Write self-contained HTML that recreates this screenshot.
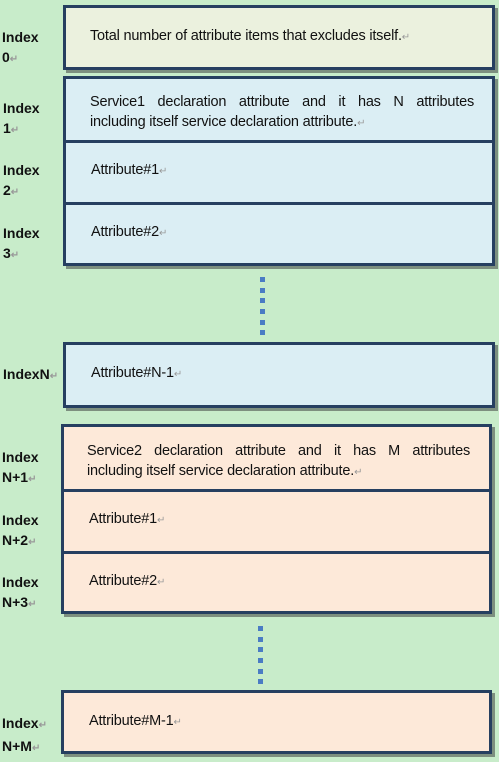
<!DOCTYPE html>
<html><head><style>
body{margin:0;width:499px;height:762px;background:#c8ecca;position:relative;overflow:hidden;font-family:"Liberation Sans",Arial,sans-serif;}
.b{position:absolute;border:3px solid #263f60;box-sizing:border-box;box-shadow:3px 3px 0 #7d8f7f;}
.d{position:absolute;left:0;right:0;height:3px;background:#263f60;}
.t{position:absolute;font-size:14.5px;color:#111;letter-spacing:-0.2px;}
.l{position:absolute;font-size:14px;font-weight:bold;color:#111;line-height:20px;left:2px;}
.r{color:#999;font-size:10px;}
.dot{position:absolute;width:5px;height:5px;background:#4a7cc4;}
</style></head><body>
<div class="b" style="left:63px;top:5px;width:432px;height:65px;background:#ebf1de"></div>
<div class="t" style="left:90px;top:28px">Total number of attribute items that excludes itself.<span class="r">↵</span></div>
<div class="b" style="left:63px;top:76px;width:432px;height:190px;background:#dbeef4">
 <div class="d" style="top:61px"></div><div class="d" style="top:123px"></div></div>
<div class="t" style="left:90px;top:93px;width:384px;text-align:justify;text-align-last:justify;line-height:19px">Service1 declaration attribute and it has N attributes</div>
<div class="t" style="left:90px;top:113px;line-height:19px">including itself service declaration attribute.<span class="r">↵</span></div>
<div class="t" style="left:91px;top:162px">Attribute#1<span class="r">↵</span></div>
<div class="t" style="left:91px;top:224px">Attribute#2<span class="r">↵</span></div>
<div class="b" style="left:63px;top:342px;width:432px;height:66px;background:#dbeef4"></div>
<div class="t" style="left:91px;top:365px">Attribute#N-1<span class="r">↵</span></div>
<div class="b" style="left:61px;top:424px;width:431px;height:190px;background:#fde9d9">
 <div class="d" style="top:62px"></div><div class="d" style="top:124px"></div></div>
<div class="t" style="left:87px;top:442px;width:383px;text-align:justify;text-align-last:justify;line-height:19px">Service2 declaration attribute and it has M attributes</div>
<div class="t" style="left:87px;top:462px;line-height:19px">including itself service declaration attribute.<span class="r">↵</span></div>
<div class="t" style="left:89px;top:511px">Attribute#1<span class="r">↵</span></div>
<div class="t" style="left:89px;top:573px">Attribute#2<span class="r">↵</span></div>
<div class="b" style="left:61px;top:690px;width:431px;height:64px;background:#fde9d9"></div>
<div class="t" style="left:89px;top:713px">Attribute#M-1<span class="r">↵</span></div>
<div class="dot" style="left:260px;top:277px"></div><div class="dot" style="left:260px;top:288px"></div><div class="dot" style="left:260px;top:298px"></div><div class="dot" style="left:260px;top:309px"></div><div class="dot" style="left:260px;top:320px"></div><div class="dot" style="left:260px;top:330px"></div>
<div class="dot" style="left:258px;top:626px"></div><div class="dot" style="left:258px;top:637px"></div><div class="dot" style="left:258px;top:647px"></div><div class="dot" style="left:258px;top:658px"></div><div class="dot" style="left:258px;top:669px"></div><div class="dot" style="left:258px;top:679px"></div>
<div class="l" style="top:27px">Index<br>0<span class="r">↵</span></div>
<div class="l" style="left:3px;top:98px">Index<br>1<span class="r">↵</span></div>
<div class="l" style="left:3px;top:160px">Index<br>2<span class="r">↵</span></div>
<div class="l" style="left:3px;top:223px">Index<br>3<span class="r">↵</span></div>
<div class="l" style="left:3px;top:364px">IndexN<span class="r">↵</span></div>
<div class="l" style="top:447px">Index<br>N+1<span class="r">↵</span></div>
<div class="l" style="top:510px">Index<br>N+2<span class="r">↵</span></div>
<div class="l" style="top:572px">Index<br>N+3<span class="r">↵</span></div>
<div class="l" style="top:713px">Index<span class="r">↵</span><br>N+M<span class="r">↵</span></div>
</body></html>
